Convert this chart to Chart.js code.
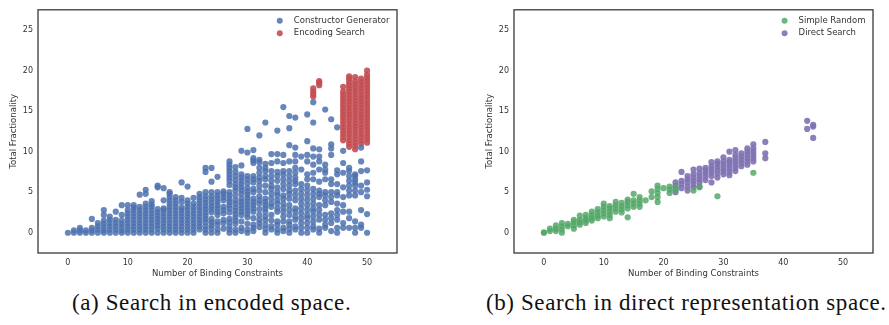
<!DOCTYPE html>
<html>
<head>
<meta charset="utf-8">
<script src="https://cdn.jsdelivr.net/npm/chart.js@4.4.1/dist/chart.umd.min.js"></script>
<style>
  body { margin: 0; background: #fff; width: 889px; height: 325px; overflow: hidden; position: relative; }
  canvas { position: absolute; top: 0; }
  #chartA { left: 0; }
  #chartB { left: 476px; }
  .caption { position: absolute; top: 290px; font-family: "Liberation Serif", serif; font-size: 23px; letter-spacing: 0.6px; color: #111; white-space: nowrap; }
</style>
</head>
<body>
<canvas id="chartA" width="420" height="285"></canvas>
<canvas id="chartB" width="413" height="285"></canvas>
<div class="caption" style="left:72px">(a) Search in encoded space.</div>
<div class="caption" style="left:486px">(b) Search in direct representation space.</div>
<script>
// axis ticks (same for both panels)
const xTicks = [0, 10, 20, 30, 40, 50];
const yTicks = [0, 5, 10, 15, 20, 25];

// (a) Constructor Generator: [binding constraints, [total fractionality values]]
const constructorGenerator = [
  [0, [0]],
  [1, [0, 0.3]],
  [2, [0, 0.3, 0.6]],
  [3, [0, 0.3]],
  [4, [0, 0.3, 0.6, 1.7]],
  [5, [0, 0.4, 0.8, 1.2]],
  [6, [0, 0.3, 0.7, 1.1, 1.5, 2.2, 2.8]],
  [7, [0, 0.4, 0.8, 1.2, 1.6, 2.0]],
  [8, [0, 0.4, 0.8, 1.2, 1.6, 2.6]],
  [9, [0, 0.3, 0.7, 1.1, 1.5, 2.2, 3.4]],
  [10, [0, 0.4, 0.8, 1.2, 1.6, 2.0, 2.4, 2.8, 3.4]],
  [11, [0, 0.4, 0.8, 1.2, 1.6, 2.0, 2.4, 2.8, 3.1, 3.4]],
  [12, [0, 0.4, 0.8, 1.2, 1.6, 2.0, 2.4, 2.8, 3.2, 4.7]],
  [13, [0, 0.4, 0.8, 1.2, 1.6, 2.0, 2.4, 2.8, 3.2, 3.6, 4.8, 5.3]],
  [14, [0, 0.4, 0.8, 1.2, 1.6, 2.0, 2.4, 2.8, 3.2, 3.5, 3.9]],
  [15, [0, 0.5, 0.9, 1.3, 1.7, 2.1, 2.5, 2.9, 5.6, 5.8]],
  [16, [0, 0.4, 0.8, 1.2, 1.6, 2.0, 2.4, 2.8, 3.0, 4.0, 5.5]],
  [17, [0, 0.4, 0.8, 1.2, 1.6, 2.0, 2.4, 2.8, 3.2, 3.6, 4.0, 4.4, 4.8, 5.0]],
  [18, [0, 0.4, 0.8, 1.2, 1.6, 2.0, 2.4, 2.8, 3.2, 3.6, 4.0, 4.4]],
  [19, [0, 0.4, 0.8, 1.2, 1.6, 2.0, 2.4, 2.8, 3.1, 3.8, 4.3, 6.2]],
  [20, [0, 0.4, 0.8, 1.2, 1.6, 2.0, 2.4, 2.8, 3.2, 3.6, 4.0, 5.7]],
  [21, [0, 0.4, 0.8, 1.2, 1.6, 2.0, 2.4, 2.8, 3.2, 3.6, 4.3]],
  [22, [0.4, 0.8, 1.2, 1.6, 2.0, 2.4, 2.8, 3.2, 3.6, 4.0, 4.4, 4.8]],
  [23, [0, 0.4, 0.8, 1.3, 1.7, 2.1, 2.5, 2.9, 3.3, 3.7, 4.1, 4.5, 5.0, 7.5, 8.0]],
  [24, [0, 0.5, 0.9, 1.3, 1.7, 2.5, 2.9, 3.3, 3.7, 4.1, 4.5, 5.0, 6.3, 8.0]],
  [25, [0, 0.4, 1.0, 1.4, 2.2, 2.6, 3.0, 3.4, 3.8, 4.2, 4.6, 5.0, 6.9]],
  [26, [0.5, 1.2, 1.6, 2.4, 2.8, 3.2, 4.0, 4.4, 4.8, 5.1]],
  [27, [0, 0.4, 0.8, 1.3, 1.7, 2.5, 3.0, 3.4, 3.8, 4.2, 4.6, 5.0, 5.9, 6.4, 6.8, 7.2, 7.6, 8.0, 8.4, 8.8]],
  [28, [0, 0.4, 1.1, 1.5, 1.9, 2.3, 2.7, 3.1, 3.6, 4.0, 4.6, 5.2, 5.6, 6.0, 6.5, 7.0, 7.5, 8.1]],
  [29, [0.2, 0.6, 1.4, 2.2, 2.6, 3.0, 3.4, 3.8, 4.2, 4.8, 5.2, 5.6, 6.0, 6.4, 6.8, 7.2, 8.3, 10.1]],
  [30, [0, 0.4, 1.1, 1.9, 2.3, 2.7, 3.1, 3.5, 3.9, 4.3, 4.7, 5.1, 5.5, 6.1, 6.6, 7.0, 9.9, 12.8]],
  [31, [0.2, 0.6, 1.0, 1.8, 2.6, 3.0, 3.4, 3.8, 4.2, 5.0, 5.4, 6.2, 6.6, 7.0, 8.6, 8.9, 9.2, 10.2]],
  [32, [0.7, 1.2, 1.6, 2.2, 2.9, 3.6, 4.0, 4.5, 5.2, 5.8, 6.4, 6.8, 7.4, 8.0, 8.7, 9.0, 12.0]],
  [33, [0, 0.5, 1.0, 1.6, 2.0, 2.6, 3.0, 3.4, 3.8, 4.2, 5.0, 5.8, 6.6, 7.0, 7.6, 8.0, 8.5, 13.6]],
  [34, [0.4, 0.8, 1.5, 2.2, 3.2, 3.6, 4.2, 4.8, 5.4, 5.8, 6.4, 7.0, 7.6, 8.6, 9.7]],
  [35, [0, 0.4, 1.0, 1.4, 2.6, 3.0, 3.6, 4.0, 4.6, 5.0, 5.6, 6.4, 7.0, 7.5, 8.8, 9.7, 12.6]],
  [36, [0.2, 0.6, 1.4, 2.0, 2.6, 3.1, 3.6, 4.2, 4.6, 5.4, 6.0, 6.6, 7.2, 7.6, 8.6, 9.6, 15.5]],
  [37, [0, 0.5, 1.0, 1.4, 2.2, 2.8, 3.4, 4.2, 4.8, 5.2, 5.8, 6.4, 7.0, 7.6, 8.8, 10.8, 12.9, 14.4]],
  [38, [0.4, 0.8, 1.6, 2.0, 2.6, 3.0, 4.0, 4.6, 5.2, 6.0, 6.4, 6.8, 7.4, 8.0, 8.8, 9.6, 10.5, 14.2]],
  [39, [0, 0.6, 1.2, 1.8, 2.4, 3.0, 3.6, 4.2, 4.8, 5.4, 6.0, 7.8, 9.4]],
  [40, [0, 0.6, 1.2, 1.8, 2.2, 2.8, 3.4, 4.0, 4.6, 5.2, 5.8, 6.6, 7.2, 8.8, 9.6, 11.3, 14.6]],
  [41, [0.4, 0.8, 1.4, 2.0, 2.6, 3.0, 3.6, 4.2, 4.8, 5.4, 6.6, 7.4, 8.4, 9.4, 10.4, 13.6, 16.1]],
  [42, [0, 0.5, 1.6, 2.2, 2.8, 3.4, 4.4, 4.8, 5.2, 6.3, 7.8, 8.8, 9.4, 10.3]],
  [43, [0.6, 1.0, 1.6, 2.2, 3.4, 4.0, 4.6, 5.0, 6.6, 7.4, 7.8, 8.4, 15.2]],
  [44, [0.2, 1.2, 1.8, 2.4, 3.8, 4.4, 5.0, 6.0, 6.6, 9.6, 10.4, 10.9, 14.0]],
  [45, [0, 0.6, 1.6, 2.2, 2.8, 3.6, 4.6, 5.0, 6.0, 7.2, 7.7, 13.0]],
  [46, [0.6, 1.2, 2.6, 3.4, 4.4, 5.6, 7.4, 8.6, 10.1]],
  [47, [0.6, 1.8, 2.6, 4.6, 5.2, 5.8, 6.4, 7.0, 7.6, 8.0]],
  [48, [0, 0.6, 1.4, 4.6, 5.2, 5.8, 6.2, 6.6, 7.0, 7.2]],
  [49, [0.6, 1.0, 2.8, 5.0, 5.8, 7.6, 8.8, 10.5]],
  [50, [0, 2.3, 4.5, 5.3, 6.2, 7.7]]
];

// (a) Encoding Search
const encodingSearch = [
  [41, [16.8, 17.1, 17.4, 17.8]],
  [42, [18.2, 18.5, 18.7]],
  [46, [11.4, 11.8, 12.2, 12.6, 13.0, 13.4, 13.8, 14.2, 14.6, 15.0, 15.4, 15.8, 16.2, 16.6, 17.0, 17.4, 18.0]],
  [47, [10.6, 11.0, 11.4, 11.8, 12.2, 12.6, 13.0, 13.4, 13.8, 14.2, 14.6, 15.0, 15.4, 15.8, 16.2, 16.6, 17.0, 17.4, 17.8, 18.2, 18.6, 19.0, 19.3]],
  [48, [10.3, 10.7, 11.1, 11.5, 11.9, 12.3, 12.7, 13.1, 13.5, 13.9, 14.3, 14.7, 15.1, 15.5, 15.9, 16.3, 16.7, 17.1, 17.5, 17.9, 18.3, 18.7, 19.2]],
  [49, [11.0, 11.4, 11.8, 12.2, 12.6, 13.0, 13.4, 13.8, 14.2, 14.6, 15.0, 15.4, 15.8, 16.2, 16.6, 17.0, 17.4, 17.8, 18.2, 18.6, 19.0]],
  [50, [11.1, 11.5, 11.9, 12.3, 12.7, 13.1, 13.5, 13.9, 14.3, 14.7, 15.1, 15.5, 15.9, 16.3, 16.7, 17.1, 17.5, 17.9, 18.3, 18.7, 19.1, 19.5, 20.0]]
];

// (b) Simple Random
const simpleRandom = [
  [0, [0, 0.05]],
  [1, [0.2, 0.5]],
  [2, [0.2, 0.5, 0.9]],
  [3, [0, 0.4, 0.8, 1.2]],
  [4, [0.8, 1.1]],
  [5, [0.5, 0.9, 1.3, 1.6]],
  [6, [1.0, 1.3, 1.6, 2.1]],
  [7, [1.2, 1.5, 1.8, 2.2]],
  [8, [1.5, 1.8, 2.2, 2.6]],
  [9, [1.8, 2.1, 2.5, 2.9]],
  [10, [2.0, 2.4, 2.8, 3.2, 3.6]],
  [11, [1.8, 2.2, 2.6, 3.0, 3.3]],
  [12, [2.6, 3.0, 3.4, 3.8]],
  [13, [2.5, 2.9, 3.3, 3.7]],
  [14, [1.9, 3.0, 3.4, 3.8, 4.1]],
  [15, [3.2, 3.6, 4.0, 4.8]],
  [16, [3.2, 3.6, 4.0, 4.4]],
  [17, [4.0]],
  [18, [4.4, 5.1]],
  [19, [3.8, 4.4, 4.9, 5.4, 5.8]],
  [20, [5.5]],
  [21, [4.9, 5.3, 5.7]],
  [22, [5.2, 5.6]],
  [25, [5.2]],
  [26, [5.6]],
  [29, [4.5]],
  [35, [7.4]]
];

// (b) Direct Search
const directSearch = [
  [22, [5.0, 5.4, 5.8, 6.2]],
  [23, [5.5, 6.0, 6.4, 7.5]],
  [24, [5.2, 5.7, 6.2, 6.6, 7.0]],
  [25, [5.6, 6.0, 6.4, 6.8, 7.2, 7.8]],
  [26, [5.7, 6.2, 6.6, 7.0, 7.4, 7.9]],
  [27, [6.5, 6.9, 7.3, 7.7, 8.0]],
  [28, [6.2, 7.0, 7.4, 7.8, 8.2, 8.7]],
  [29, [6.8, 7.3, 7.7, 8.1, 8.5, 8.8]],
  [30, [7.2, 7.6, 8.0, 8.4, 8.8, 9.3]],
  [31, [7.1, 7.5, 7.9, 8.3, 8.7, 9.0, 10.0]],
  [32, [7.6, 8.0, 8.4, 8.8, 9.2, 9.6, 10.2]],
  [33, [8.2, 8.6, 9.0, 9.4, 9.8]],
  [34, [8.4, 8.8, 9.2, 9.6, 10.0, 10.4]],
  [35, [8.8, 9.2, 9.6, 10.0, 10.4, 10.9]],
  [37, [9.2, 9.8, 11.2]],
  [44, [12.8, 13.8]],
  [45, [11.7, 13.1, 13.3]]
];

const FONT = '"DejaVu Sans", sans-serif';
const TEXT = '#333';

function toPoints(columns) {
  const pts = [];
  columns.forEach(([x, ys]) => ys.forEach(y => pts.push({ x: x, y: y })));
  return pts;
}

// dark frame around the plotting area
const framePlugin = {
  id: 'frame',
  afterDatasetsDraw(chart) {
    const { ctx, chartArea: a } = chart;
    ctx.save();
    ctx.strokeStyle = '#3a3a3a';
    ctx.lineWidth = 1.3;
    ctx.strokeRect(a.left, a.top, a.right - a.left, a.bottom - a.top);
    ctx.restore();
  }
};

// legend in the top right corner, matplotlib style
const cornerLegend = {
  id: 'cornerLegend',
  afterDraw(chart) {
    const { ctx, chartArea: a } = chart;
    ctx.save();
    ctx.font = '8.5px ' + FONT;
    const sets = chart.data.datasets;
    const w = Math.max(...sets.map(d => ctx.measureText(d.label).width));
    const textX = a.right - 7.5 - w;
    sets.forEach((d, i) => {
      const y = a.top + 11 + i * 12.4;
      ctx.fillStyle = d.backgroundColor;
      ctx.beginPath();
      ctx.arc(textX - 14, y, 3, 0, Math.PI * 2);
      ctx.fill();
      ctx.fillStyle = TEXT;
      ctx.textBaseline = 'middle';
      ctx.fillText(d.label, textX, y);
    });
    ctx.restore();
  }
};

function makeChart(id, series, rightPad) {
  return new Chart(document.getElementById(id), {
    type: 'scatter',
    data: {
      datasets: series.map(s => ({
        label: s.label,
        data: toPoints(s.columns),
        backgroundColor: s.color,
        borderWidth: 0,
        pointRadius: 3.1,
        pointHoverRadius: 3.1
      }))
    },
    options: {
      responsive: false,
      animation: false,
      devicePixelRatio: 1,
      layout: { padding: { top: 8, right: rightPad, left: 0, bottom: 0 } },
      plugins: { legend: { display: false }, tooltip: { enabled: false } },
      scales: {
        x: {
          type: 'linear',
          min: -5,
          max: 55,
          grid: { display: false, drawTicks: false },
          border: { display: false },
          afterBuildTicks: scale => { scale.ticks = xTicks.map(v => ({ value: v })); },
          afterFit: scale => { scale.height = 32; },
          ticks: { padding: 5, color: TEXT, font: { family: FONT, size: 8 } },
          title: { display: true, text: 'Number of Binding Constraints', color: TEXT,
                   font: { family: FONT, size: 8.5 }, padding: { top: 2, bottom: 6 } }
        },
        y: {
          type: 'linear',
          min: -2.5,
          max: 27.5,
          grid: { display: false, drawTicks: false },
          border: { display: false },
          afterBuildTicks: scale => { scale.ticks = yTicks.map(v => ({ value: v })); },
          afterFit: scale => { scale.width = 38; },
          ticks: { padding: 5, color: TEXT, font: { family: FONT, size: 8 } },
          title: { display: true, text: 'Total Fractionality', color: TEXT,
                   font: { family: FONT, size: 8.5 }, padding: { top: 9, bottom: 0 } }
        }
      }
    },
    plugins: [framePlugin, cornerLegend]
  });
}

makeChart('chartA', [
  { label: 'Constructor Generator', columns: constructorGenerator, color: 'rgba(76, 114, 176, 0.85)' },
  { label: 'Encoding Search', columns: encodingSearch, color: 'rgba(196, 78, 82, 0.9)' }
], 23);

makeChart('chartB', [
  { label: 'Simple Random', columns: simpleRandom, color: 'rgba(85, 168, 104, 0.85)' },
  { label: 'Direct Search', columns: directSearch, color: 'rgba(129, 114, 178, 0.9)' }
], 16);
</script>
</body>
</html>
